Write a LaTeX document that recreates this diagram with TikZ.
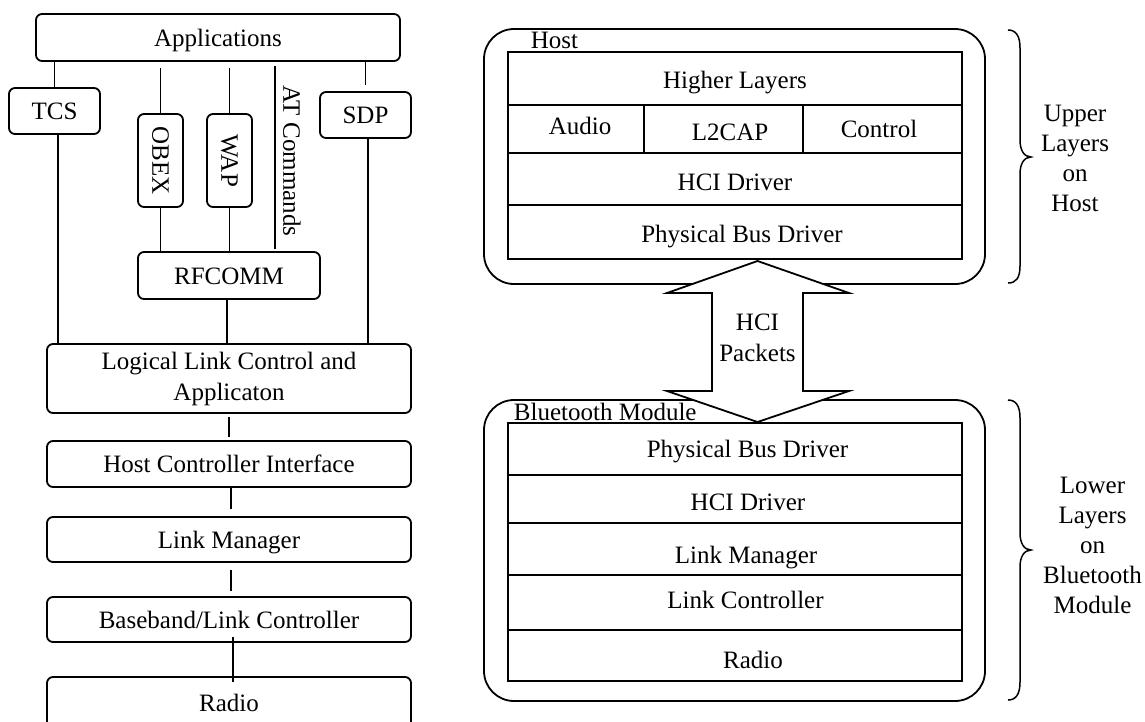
\documentclass[tikz,border=0pt]{standalone}
\usepackage{fontspec}
\setmainfont{Liberation Serif}
\usepackage{graphicx}
\begin{document}
\begin{tikzpicture}[x=1pt,y=-1pt,line width=1.8pt,
  txt/.style={font=\fontsize{25}{30}\selectfont, inner sep=0pt},
  box/.style={draw, rounded corners=6pt, inner sep=0pt, font=\fontsize{25}{30}\selectfont, text height=17pt, text depth=0pt},
  vbox/.style={draw, rounded corners=6pt, inner sep=0pt, font=\fontsize{25}{30}\selectfont},
  tallbox/.style={draw, rounded corners=6pt, inner sep=0pt, align=center, font=\fontsize{25}{31}\selectfont},
  outer/.style={draw, rounded corners=30pt, inner sep=0pt},
  layer/.style={draw, inner sep=0pt, minimum width=454pt},
  cell/.style={draw, inner sep=0pt},
  lbl/.style={txt, anchor=base},
  side/.style={txt, align=center},
  brace/.style={line width=1.5pt}
]
\clip (0,0) rectangle (1145,721);

% ---------- left stack ----------
\node[box, minimum width=364pt, minimum height=47pt] (app) at (218,37.5) {Applications};
\node[box, minimum width=91pt, minimum height=46pt] (tcs) at (54.5,111) {TCS};
\node[vbox, minimum width=45pt, minimum height=93pt] (obex) at (160.5,160.5) {\rotatebox{-90}{OBEX}};
\node[vbox, minimum width=45pt, minimum height=93pt] (wap) at (229.5,160.5) {\rotatebox{-90}{WAP}};
\node[txt] (atc) at (292,161) {\rotatebox{-90}{AT Commands}};
\node[box, minimum width=91pt, minimum height=46pt] (sdp) at (365.5,115) {SDP};
\node[box, minimum width=182pt, minimum height=47pt] (rfcomm) at (229,275.5) {RFCOMM};
\node[tallbox, minimum width=364pt, minimum height=69pt] (llc) at (229,378.5) {Logical Link Control and\\Applicaton};
\node[box, minimum width=364pt, minimum height=46pt] (hci) at (229,464) {Host Controller Interface};
\node[box, minimum width=364pt, minimum height=45pt] (lm) at (229,539.5) {Link Manager};
\node[box, minimum width=364pt, minimum height=45pt] (bb) at (229,619.5) {Baseband/Link Controller};
\node[box, minimum width=364pt, minimum height=52pt] (radio) at (229,703) {Radio};
\coordinate (atx) at (275,0);

\draw (app.south -| tcs.north) -- (tcs.north);
\draw ([xshift=3.5pt]tcs.south) -- ([xshift=3.5pt]tcs.south |- llc.north);
\draw[shorten <=6pt] (app.south -| obex.north) -- (obex.north);
\draw[shorten <=6pt] (app.south -| wap.north) -- (wap.north);
\draw[shorten <=4pt, shorten >=2pt] (app.south -| atx) -- (atx |- rfcomm.north);
\draw[shorten >=6pt] (app.south -| sdp.north) -- (sdp.north);
\draw ([xshift=2.5pt]sdp.south) -- ([xshift=2.5pt]sdp.south |- llc.north);
\draw (obex.south) -- (obex.south |- rfcomm.north);
\draw (wap.south) -- (wap.south |- rfcomm.north);
\draw ([xshift=-2pt]rfcomm.south) -- ([xshift=-2pt]rfcomm.south |- llc.north);
\draw[shorten <=3pt, shorten >=3pt] (llc.south) -- (hci.north);
\draw[shorten >=7pt] ([xshift=2pt]hci.south) -- ([xshift=2pt]lm.north);
\draw[shorten <=7pt, shorten >=5pt] ([xshift=2pt]lm.south) -- ([xshift=2pt]bb.north);
\draw[shorten <=-6pt, shorten >=-6pt] ([xshift=4pt]bb.south) -- ([xshift=4pt]radio.north);

% ---------- right side ----------
\node[outer, minimum width=501pt, minimum height=255pt] (host) at (734.5,156.5) {};
\node[outer, minimum width=501pt, minimum height=301pt] (btm) at (734.5,550.5) {};

\draw[fill=white] (757.5,261) -- (849,293) -- (803,293) -- (803,391) -- (849,391)
  -- (757.5,422) -- (667,391) -- (712,391) -- (712,293) -- (667,293) -- cycle;
\node[side, font=\fontsize{25}{31}\selectfont] (pk) at (757.5,338) {HCI\\Packets};

% host stack
\node[layer, minimum height=53pt] (hl) at (735,78.5) {};
\node[cell, minimum width=136pt, minimum height=48pt] (audio) at (576,129) {};
\node[cell, minimum width=159pt, minimum height=48pt] (l2cap) at (723.5,129) {};
\node[cell, minimum width=159pt, minimum height=48pt] (ctrl) at (882.5,129) {};
\node[layer, minimum height=52pt] (hcid) at (735,179) {};
\node[layer, minimum height=54pt] (hpbd) at (735,232) {};
\node[lbl] (thl) at (735,88) {Higher Layers};
\node[lbl] (taudio) at (580,134) {Audio};
\node[lbl] (tl2cap) at (730,140) {L2CAP};
\node[lbl] (tctrl) at (879,137) {Control};
\node[lbl] (thcid) at (735,190) {HCI Driver};
\node[lbl] (thpbd) at (742,242) {Physical Bus Driver};
\node[lbl, anchor=base west] (hostl) at (530,48) {Host};

% bluetooth module stack
\node[layer, minimum height=52pt] (bpbd) at (735,449) {};
\node[layer, minimum height=48pt] (bhcid) at (735,499) {};
\node[layer, minimum height=52pt] (blm) at (735,549) {};
\node[layer, minimum height=55pt] (blc) at (735,602.5) {};
\node[layer, minimum height=51pt] (bradio) at (735,655.5) {};
\node[lbl] (tbpbd) at (747.5,457) {Physical Bus Driver};
\node[lbl] (tbhcid) at (748,510) {HCI Driver};
\node[lbl] (tblm) at (746,563) {Link Manager};
\node[lbl] (tblc) at (745.5,608) {Link Controller};
\node[lbl] (tbradio) at (753,668) {Radio};
\node[lbl, anchor=base west] (btl) at (513,420) {Bluetooth Module};

% braces and side labels
\draw[brace] (1008,30) .. controls (1016,30) and (1020,36) .. (1020,48) -- (1020,140)
  .. controls (1020,150) and (1024,157) .. (1031,157)
  .. controls (1024,157) and (1020,164) .. (1020,174) -- (1020,266)
  .. controls (1020,278) and (1016,283) .. (1008,283);
\draw[brace] (1008,400) .. controls (1016,400) and (1020,406) .. (1020,418) -- (1020,533)
  .. controls (1020,543) and (1024,550) .. (1031,550)
  .. controls (1024,550) and (1020,557) .. (1020,567) -- (1020,682)
  .. controls (1020,694) and (1016,700) .. (1008,700);
\node[side] (up) at (1075,158.5) {Upper\\Layers\\on\\Host};
\node[side] (low) at (1092.5,545.5) {Lower\\Layers\\on\\Bluetooth\\Module};
\end{tikzpicture}
\end{document}
